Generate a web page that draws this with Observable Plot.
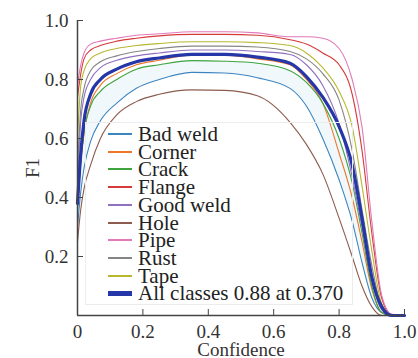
<!DOCTYPE html>
<html><head><meta charset="utf-8">
<script src="https://cdn.jsdelivr.net/npm/d3@7"></script>
<script src="https://cdn.jsdelivr.net/npm/@observablehq/plot@0.6"></script>
<style>
html,body{margin:0;padding:0;background:#fff;}
#wrap{position:relative;width:418px;height:358px;font-family:'Liberation Serif','DejaVu Serif',serif;}
#chart svg text{font-family:'Liberation Serif','DejaVu Serif',serif;}
#legend{position:absolute;left:85px;top:122px;width:268px;height:183px;border:1px solid #ececec;box-sizing:border-box;}
.row{position:absolute;left:0;height:18px;display:flex;align-items:center;font-size:21px;color:#222;line-height:18px;white-space:nowrap;font-family:'Liberation Serif',serif;}
.sw{width:24px;margin-left:22px;margin-right:6px;}
</style></head>
<body><div id="wrap"><div id="chart"></div><div id="legend"></div></div>
<script>
const confidence = [0, 0.01, 0.02, 0.04, 0.07, 0.12, 0.18, 0.25, 0.35, 0.45, 0.55, 0.65, 0.70, 0.75, 0.80, 0.84, 0.87, 0.90, 0.93, 0.96, 1.0];
const classes = ["Bad weld","Corner","Crack","Flange","Good weld","Hole","Pipe","Rust","Tape"];
const colors = ["#3d85c0","#f0762a","#3fa33f","#d63a3a","#9070c0","#8c5c4e","#e07ab8","#858585","#b8b830"];
const badWeld  = [0.30,0.42,0.50,0.59,0.66,0.72,0.77,0.80,0.824,0.822,0.806,0.77,0.71,0.60,0.46,0.32,0.18,0.06,0.01,0,0];
const corner   = [0.36,0.52,0.62,0.72,0.78,0.82,0.85,0.865,0.882,0.882,0.87,0.85,0.80,0.72,0.55,0.40,0.25,0.09,0.01,0,0];
const crack    = [0.36,0.52,0.62,0.71,0.76,0.80,0.835,0.85,0.864,0.862,0.855,0.83,0.79,0.72,0.60,0.45,0.28,0.10,0.01,0,0];
const flange   = [0.74,0.82,0.87,0.90,0.915,0.93,0.94,0.948,0.953,0.953,0.95,0.935,0.92,0.89,0.85,0.75,0.56,0.28,0.06,0.003,0];
const goodWeld = [0.45,0.66,0.74,0.80,0.84,0.865,0.88,0.89,0.90,0.90,0.895,0.885,0.85,0.78,0.65,0.47,0.30,0.12,0.02,0,0];
const hole     = [0.25,0.36,0.43,0.51,0.60,0.68,0.725,0.75,0.765,0.763,0.745,0.655,0.58,0.48,0.33,0.20,0.10,0.03,0,0,0];
const pipe     = [0.78,0.85,0.89,0.92,0.93,0.94,0.95,0.955,0.962,0.962,0.958,0.945,0.945,0.94,0.905,0.80,0.64,0.32,0.07,0.005,0];
const rust     = [0.50,0.70,0.77,0.83,0.86,0.88,0.895,0.905,0.913,0.913,0.91,0.895,0.87,0.82,0.73,0.56,0.36,0.17,0.03,0.001,0];
const tape     = [0.60,0.78,0.83,0.87,0.89,0.905,0.915,0.922,0.928,0.928,0.925,0.915,0.89,0.84,0.76,0.64,0.44,0.22,0.04,0.002,0];
const allClasses = [0.38,0.55,0.66,0.75,0.80,0.835,0.86,0.873,0.885,0.885,0.876,0.855,0.81,0.74,0.64,0.51,0.33,0.13,0.03,0,0];
const allLabel = "All classes 0.88 at 0.370";
const allColor = "#2536a8";
const xTicks = [0,0.2,0.4,0.6,0.8,1.0];
const yTicks = [0.2,0.4,0.6,0.8,1.0];

const seriesVals = [badWeld,corner,crack,flange,goodWeld,hole,pipe,rust,tape];
const rows = [];
classes.forEach((c,i)=>confidence.forEach((x,j)=>rows.push({cls:c,x,y:seriesVals[i][j]})));
const allRows = confidence.map((x,j)=>({x,y:allClasses[j]}));
const band = confidence.map((x,j)=>({x,y1:badWeld[j],y2:crack[j]}));
const fmt = d => d===0 ? "0" : d.toFixed(1);
const serif = "'Liberation Serif', serif";

const chart = Plot.plot({
  width:418, height:358,
  marginLeft:77, marginRight:14, marginTop:20, marginBottom:43,
  style:{fontFamily:serif, fontSize:"19px", color:"#333", background:"#fff"},
  x:{domain:[0,1]}, y:{domain:[0,1]},
  color:{domain:classes, range:colors},
  marks:[
    Plot.areaY(band,{x:"x",y1:"y1",y2:"y2",fill:"#e4f3fa",fillOpacity:0.55,curve:"monotone-x"}),
    Plot.line(rows,{x:"x",y:"y",z:"cls",stroke:"cls",strokeWidth:1.1,curve:"monotone-x"}),
    Plot.line(allRows,{x:"x",y:"y",stroke:allColor,strokeWidth:3.2,curve:"monotone-x"}),
    Plot.axisX({ticks:xTicks,tickFormat:fmt,tickSize:-6,tickPadding:15,label:"Confidence",labelAnchor:"center",labelArrow:false,labelOffset:40,fontSize:19,fontFamily:serif,stroke:"#444"}),
    Plot.axisY({ticks:yTicks,tickFormat:fmt,tickSize:-6,tickPadding:15,label:"F1",labelAnchor:"center",labelArrow:false,labelOffset:52,fontSize:19,fontFamily:serif,stroke:"#444"}),
    Plot.ruleX([0],{stroke:"#444",strokeWidth:1.5}),
    Plot.ruleY([0],{stroke:"#444",strokeWidth:1.5})
  ]
});
document.getElementById("chart").appendChild(chart);

const legend = document.getElementById("legend");
const items = classes.map((c,i)=>({label:c,color:colors[i],w:2})).concat([{label:allLabel,color:allColor,w:5}]);
items.forEach((it,i)=>{
  const r = document.createElement("div");
  r.className="row";
  r.style.top = (2 + i*17.7) + "px";
  r.innerHTML = `<span class="sw" style="height:${it.w}px;background:${it.color}"></span><span>${it.label}</span>`;
  legend.appendChild(r);
});
</script></body></html>
